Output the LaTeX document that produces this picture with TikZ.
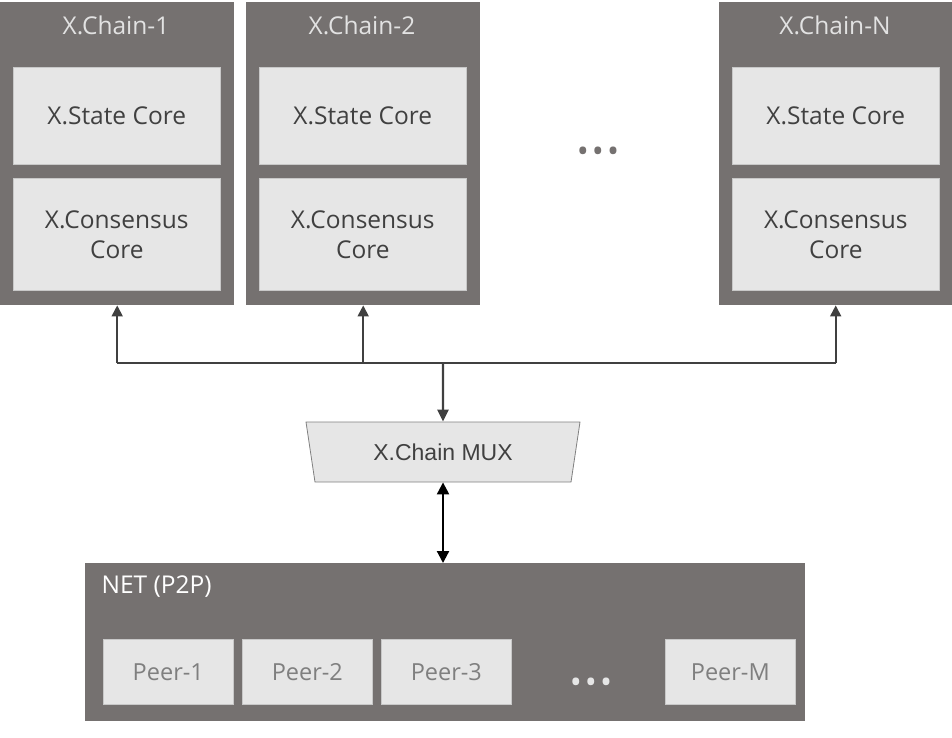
\documentclass[tikz,border=0pt]{standalone}
\usepackage{fontspec}
\setmainfont{Open Sans}
\newfontfamily\muxfont{Liberation Sans}
\usetikzlibrary{arrows.meta, positioning, shapes.geometric}

\definecolor{boxgray}{HTML}{757170}
\definecolor{corefill}{HTML}{E6E6E6}
\definecolor{coreline}{HTML}{C8C8C8}
\definecolor{coretext}{HTML}{404040}
\definecolor{peertext}{HTML}{7F7F7F}
\definecolor{titletext}{HTML}{E2E2E2}
\definecolor{wire}{HTML}{404040}

\tikzset{
  chainbox/.style={fill=boxgray, anchor=north west, inner sep=0pt,
    minimum width=234pt, minimum height=303pt},
  corebox/.style={fill=corefill, draw=coreline, line width=0.6pt, anchor=north west,
    inner sep=0pt, minimum width=207pt, text=coretext, align=center,
    font=\fontsize{24.5}{30}\selectfont},
  peerbox/.style={fill=corefill, draw=coreline, line width=0.6pt, anchor=north west,
    inner sep=0pt, minimum width=130pt, minimum height=65pt, text=peertext,
    font=\fontsize{23.5}{28}\selectfont},
  chaintitle/.style={text=titletext, font=\fontsize{24.5}{30}\selectfont},
  dots/.style={font=\fontsize{32}{32}\selectfont, inner sep=0pt},
  wire/.style={draw=wire, line width=1.8pt},
  tip/.style={-{Triangle[width=11pt,length=11pt]}}
}

\begin{document}
\begin{tikzpicture}[x=1pt, y=-1pt]
\useasboundingbox (0,0) rectangle (952,737);

% chains
\node[chainbox] (chain1) at (0,2) {};
\node[chainbox] (chain2) at (246,2) {};
\node[chainbox, minimum width=233pt] (chainN) at (719,2) {};

\node[chaintitle] (title1) at (116,25) {X.Chain-1};
\node[chaintitle] (title2) at (362,25) {X.Chain-2};
\node[chaintitle] (titleN) at (835,25) {X.Chain-N};

\node[corebox, minimum height=97pt] (state1) at (13,67) {X.State Core};
\node[corebox, minimum height=112pt] (cons1) at (13,178) {X.Consensus\\Core};
\node[corebox, minimum height=97pt] (state2) at (259,67) {X.State Core};
\node[corebox, minimum height=112pt] (cons2) at (259,178) {X.Consensus\\Core};
\node[corebox, minimum height=97pt] (stateN) at (732,67) {X.State Core};
\node[corebox, minimum height=112pt] (consN) at (732,178) {X.Consensus\\Core};

\node[dots, text=boxgray] (chaindots) at (598,155) {\textbullet\hspace{3pt}\textbullet\hspace{3pt}\textbullet};

% mux
\node[trapezium, shape border rotate=180, trapezium left angle=62, trapezium right angle=62,
  trapezium stretches body, minimum width=274pt, minimum height=60pt, inner sep=0pt,
  fill=corefill, draw=gray, line width=0.8pt, text=coretext,
  font=\muxfont\fontsize{23}{26}\selectfont] (mux) at (443,452) {X.Chain MUX};

% net
\node[fill=boxgray, anchor=north west, inner sep=0pt, minimum width=720pt,
  minimum height=158pt] (net) at (85,563) {};
\node[anchor=west, text=white, font=\fontsize{24.5}{28}\selectfont] (nettitle) at (98,587) {NET (P2P)};
\node[peerbox] (peer1) at (103,639) {Peer-1};
\node[peerbox] (peer2) at (242,639) {Peer-2};
\node[peerbox] (peer3) at (381,639) {Peer-3};
\node[peerbox] (peerM) at (665,639) {Peer-M};
\node[dots, text=corefill] (peerdots) at (591,686) {\textbullet\hspace{3pt}\textbullet\hspace{3pt}\textbullet};

% arrows
\coordinate (bus) at (443,363);
\draw[wire] (chain1.south |- bus) -- (chainN.south |- bus);
\draw[wire, tip] (chain1.south |- bus) -- (chain1.south);
\draw[wire, tip] (chain2.south |- bus) -- (chain2.south);
\draw[wire, tip] (chainN.south |- bus) -- (chainN.south);
\draw[wire, line width=2.4pt, -{Triangle[width=11pt,length=12pt]}] (bus) -- (mux.north);
\draw[black, line width=2.2pt, {Triangle[width=12pt,length=12pt]}-{Triangle[width=12pt,length=12pt]}]
  (mux.south) -- (mux.south |- net.north);

\end{tikzpicture}
\end{document}
